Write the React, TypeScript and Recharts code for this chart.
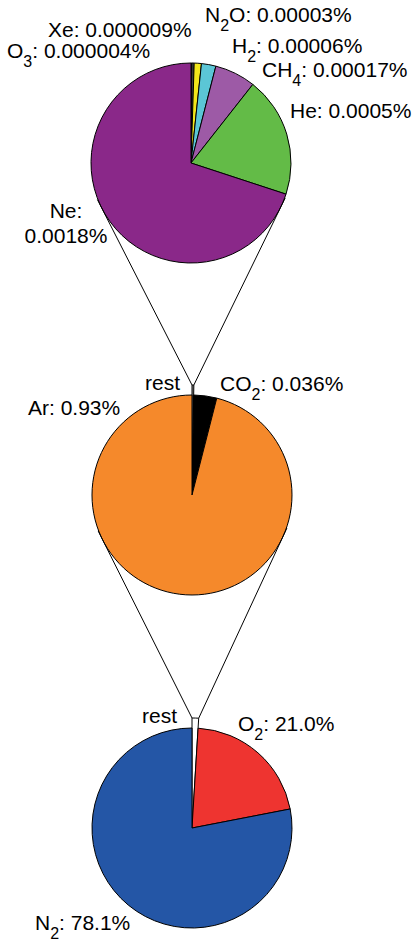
import { Pie, PieChart, Sector } from 'recharts';

// Trace gases (in % of dry air), the "rest" of the middle pie
const traceNames = ['O3', 'Xe', 'N2O', 'H2', 'CH4', 'He', 'Ne'];
const traceValues = [0.000004, 0.000009, 0.00003, 0.00006, 0.00017, 0.0005, 0.0018];

// Argon and CO2, plus everything above
const minorNames = ['rest', 'CO2', 'Ar'];
const minorValues = [0.0026, 0.036, 0.93];

// Main components of dry air
const majorNames = ['rest', 'O2', 'N2'];
const majorValues = [0.97, 21.0, 78.1];

const traceColors = ['#2b2b2b', '#5a5a5a', '#f2e61b', '#5bc6d6', '#9d5aa6', '#63bb47', '#8a2889'];
const minorColors = ['#8c8c8c', '#000000', '#f5892b'];
const majorColors = ['#ffffff', '#ee3430', '#2456a6'];

const toRows = (names: string[], values: number[], colors: string[]) =>
  names.map((name, i) => ({ name, value: values[i], fill: colors[i] }));

const traceData = toRows(traceNames, traceValues, traceColors);
const minorData = toRows(minorNames, minorValues, minorColors);
const majorData = toRows(majorNames, majorValues, majorColors);

const R = 100;
const EXPLODE = 10;
const pies = [
  { cx: 191, cy: 163 },
  { cx: 192, cy: 495 },
  { cx: 192, cy: 828 },
];

const RAD = Math.PI / 180;
const polar = (cx: number, cy: number, r: number, deg: number) => ({
  x: cx + r * Math.cos(-deg * RAD),
  y: cy + r * Math.sin(-deg * RAD),
});

// tangent point on circle (c, R) seen from p; side = +1 left, -1 right
const tangent = (p: { x: number; y: number }, c: { cx: number; cy: number }, side: number) => {
  const dx = p.x - c.cx;
  const dy = p.y - c.cy;
  const d = Math.hypot(dx, dy);
  const phi = Math.atan2(dy, dx);
  const a = phi + side * Math.acos(R / d);
  const t = { x: c.cx + R * Math.cos(a), y: c.cy + R * Math.sin(a) };
  // run the line a little past the tangent point
  const len = Math.hypot(t.x - p.x, t.y - p.y);
  return { x: t.x + ((t.x - p.x) / len) * 10, y: t.y + ((t.y - p.y) / len) * 10 };
};

// the "rest" slice sticks out and gets joined to the pie that breaks it down
const explodedShape = (upper: { cx: number; cy: number }) => (props: any) => {
  const name = props.payload?.name ?? props.name;
  if (name !== 'rest') return <Sector {...props} />;
  const { cx, cy, outerRadius, startAngle, endAngle } = props;
  const r = outerRadius + EXPLODE;
  const a = polar(cx, cy, r, startAngle);
  const b = polar(cx, cy, r, endAngle);
  const ta = tangent(a, upper, 1);
  const tb = tangent(b, upper, -1);
  return (
    <g>
      <Sector {...props} outerRadius={r} />
      <line x1={a.x} y1={a.y} x2={ta.x} y2={ta.y} stroke="#000" strokeWidth={1} />
      <line x1={b.x} y1={b.y} x2={tb.x} y2={tb.y} stroke="#000" strokeWidth={1} />
    </g>
  );
};

const SUB_DY = 9;

// chemical formula with subscripted digits, followed by plain text
function Formula({ text, tail = '' }: { text: string; tail?: string }) {
  const parts = text.split(/(\d+)/).filter(Boolean);
  if (tail) parts.push(tail);
  let low = false;
  return (
    <>
      {parts.map((p, i) => {
        const isSub = /^\d+$/.test(p) && i < parts.length - (tail ? 1 : 0);
        if (isSub) {
          low = true;
          return (
            <tspan key={i} dy={SUB_DY} fontSize={16}>
              {p}
            </tspan>
          );
        }
        const dy = low ? -SUB_DY : 0;
        low = false;
        return (
          <tspan key={i} dy={dy}>
            {p}
          </tspan>
        );
      })}
    </>
  );
}

const fmt = (v: number, digits?: number) => (digits === undefined ? String(v) : v.toFixed(digits));

const labelPos: Record<string, { x: number; y: number }> = {
  O3: { x: 7, y: 58 },
  Xe: { x: 48, y: 37 },
  N2O: { x: 205, y: 22 },
  H2: { x: 232, y: 53 },
  CH4: { x: 262, y: 77 },
  He: { x: 290, y: 118 },
  CO2: { x: 220, y: 391 },
  Ar: { x: 28, y: 415 },
  O2: { x: 238, y: 731 },
  N2: { x: 35, y: 930 },
};

function Label({ name, value, digits, x, y }: { name: string; value: number; digits?: number; x: number; y: number }) {
  return (
    <text x={x} y={y} fontSize={21} fill="#000">
      <Formula text={name} tail={`: ${fmt(value, digits)}%`} />
    </text>
  );
}

const pieCommon = {
  dataKey: 'value',
  nameKey: 'name',
  outerRadius: R,
  startAngle: 90,
  endAngle: -270,
  stroke: '#000',
  strokeWidth: 1,
  isAnimationActive: false,
};

export default function App() {
  const font = '"Liberation Sans", Arial, sans-serif';
  const midShape = explodedShape(pies[0]);
  const lowShape = explodedShape(pies[1]);
  return (
    <div style={{ position: 'absolute', left: 0, top: 0, fontFamily: font }}>
      <PieChart width={415} height={942} margin={{ top: 0, right: 0, bottom: 0, left: 0 }} style={{ fontFamily: font }}>
        <Pie {...pieCommon} data={traceData} cx={pies[0].cx} cy={pies[0].cy} />
        <Pie
          {...pieCommon}
          data={minorData}
          cx={pies[1].cx}
          cy={pies[1].cy}
          shape={midShape}
          inactiveShape={midShape}
          activeShape={midShape}
        />
        <Pie
          {...pieCommon}
          data={majorData}
          cx={pies[2].cx}
          cy={pies[2].cy}
          shape={lowShape}
          inactiveShape={lowShape}
          activeShape={lowShape}
        />
        <g fontFamily={font}>
          {traceNames
            .filter((n) => n !== 'Ne')
            .map((n) => (
              <Label key={n} name={n} value={traceValues[traceNames.indexOf(n)]} {...labelPos[n]} />
            ))}
          <text x={66} y={218} fontSize={21} textAnchor="middle">
            Ne:
          </text>
          <text x={66} y={243} fontSize={21} textAnchor="middle">
            {`${fmt(traceValues[6])}%`}
          </text>

          <text x={145} y={390} fontSize={21}>
            {minorNames[0]}
          </text>
          <Label name="CO2" value={minorValues[1]} {...labelPos.CO2} />
          <Label name="Ar" value={minorValues[2]} {...labelPos.Ar} />

          <text x={142} y={723} fontSize={21}>
            {majorNames[0]}
          </text>
          <Label name="O2" value={majorValues[1]} digits={1} {...labelPos.O2} />
          <Label name="N2" value={majorValues[2]} digits={1} {...labelPos.N2} />
        </g>
      </PieChart>
    </div>
  );
}
